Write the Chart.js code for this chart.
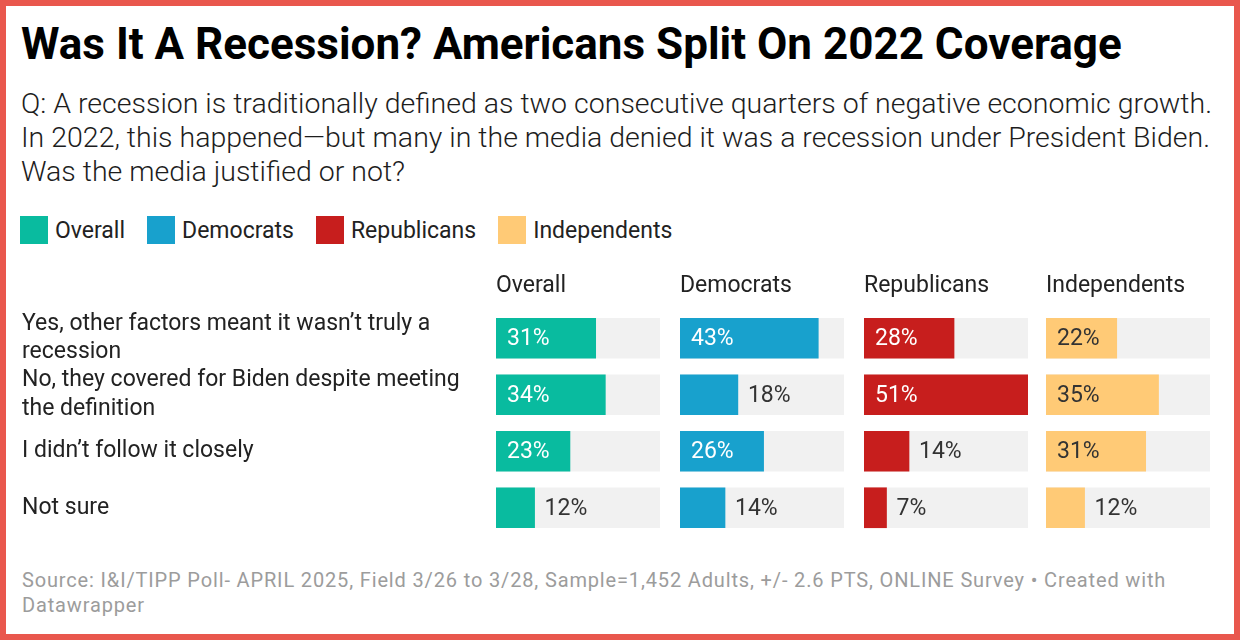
<!DOCTYPE html>
<html>
<head>
<meta charset="utf-8">
<script src="https://cdn.jsdelivr.net/npm/chart.js@4.4.1/dist/chart.umd.min.js"></script>
<style>
  body { margin: 0; background: #fff; font-family: Roboto, sans-serif; }
  .frame { position: relative; width: 1240px; height: 640px; box-sizing: border-box; border: 6px solid #e9574d; overflow: hidden; }
  .abs { position: absolute; }
  .title { left: 15px; top: 14px; font-size: 44px; line-height: 48px; font-weight: 700; color: #000; white-space: nowrap; }
  .sub { left: 15px; top: 81px; font-size: 28.5px; line-height: 34px; font-weight: 300; color: #1d1d1d; white-space: nowrap; }
  .legend { left: 14px; top: 210px; display: flex; align-items: center; font-size: 23px; color: #222; }
  .legend span.sw { width: 28px; height: 28px; display: inline-block; margin-right: 7px; }
  .legend .item { display: flex; align-items: center; margin-right: 22px; }
  .source { left: 16px; top: 562px; font-size: 20px; line-height: 25px; letter-spacing: 0.85px; color: #9c9c9c; white-space: nowrap; }
  canvas { position: absolute; }
</style>
</head>
<body>
<div class="frame">
  <div class="abs title">Was It A Recession? Americans Split On 2022 Coverage</div>
  <div class="abs sub">Q: A recession is traditionally defined as two consecutive quarters of negative economic growth.<br>In 2022, this happened—but many in the media denied it was a recession under President Biden.<br>Was the media justified or not?</div>
  <div class="abs legend" id="legend"></div>
  <div class="abs source">Source: I&amp;I/TIPP Poll- APRIL 2025, Field 3/26 to 3/28, Sample=1,452 Adults, +/- 2.6 PTS, ONLINE Survey • Created with<br>Datawrapper</div>
</div>
<script>
// answers (row labels, wrapped as in the original)
const answers = [
  ['Yes, other factors meant it wasn’t truly a', 'recession'],
  ['No, they covered for Biden despite meeting', 'the definition'],
  'I didn’t follow it closely',
  'Not sure'
];

const groups = ['Overall', 'Democrats', 'Republicans', 'Independents'];
const groupColors = ['#09bb9f', '#18a1cd', '#c71e1d', '#ffca76'];
const labelInsideColors = ['#fff', '#fff', '#fff', '#333'];

// percentages per group, same order as answers
const overall = [31, 34, 23, 12];
const democrats = [43, 18, 26, 14];
const republicans = [28, 51, 14, 7];
const independents = [22, 35, 31, 12];

const seriesValues = [overall, democrats, republicans, independents];
const scaleMax = Math.max(...seriesValues.flat());

// legend
const legendEl = document.getElementById('legend');
groups.forEach((g, i) => {
  const item = document.createElement('div');
  item.className = 'item';
  item.innerHTML = `<span class="sw" style="background:${groupColors[i]}"></span>${g}`;
  legendEl.appendChild(item);
});

const FONT = '23px Roboto';

// draws the panel header and the value labels
const panelLabels = {
  id: 'panelLabels',
  afterDatasetsDraw(chart, args, opts) {
    const ctx = chart.ctx;
    const area = chart.chartArea;
    ctx.save();
    ctx.font = FONT;
    ctx.textBaseline = 'alphabetic';
    ctx.fillStyle = '#222';
    ctx.textAlign = 'left';
    ctx.fillText(opts.header, area.left, area.top - 18);

    ctx.textBaseline = 'middle';
    const meta = chart.getDatasetMeta(1);
    meta.data.forEach((bar, i) => {
      const txt = chart.data.datasets[1].data[i] + '%';
      const w = ctx.measureText(txt).width;
      const len = bar.x - bar.base;
      if (len >= w + 22) {
        ctx.fillStyle = opts.insideColor;
        ctx.fillText(txt, bar.base + 11, bar.y + 1);
      } else {
        ctx.fillStyle = '#333';
        ctx.fillText(txt, bar.x + 10, bar.y + 1);
      }
    });
    ctx.restore();
  }
};

const panelLefts = [22, 680, 864, 1046];
const panelWidths = [638, 164, 164, 164];

const frame = document.querySelector('.frame');

groups.forEach((g, gi) => {
  const canvas = document.createElement('canvas');
  canvas.style.left = (panelLefts[gi] - 6) + 'px';
  canvas.style.top = (260 - 6) + 'px';
  canvas.width = panelWidths[gi];
  canvas.height = 290;
  canvas.style.width = panelWidths[gi] + 'px';
  canvas.style.height = '290px';
  frame.appendChild(canvas);

  const showAxis = gi === 0;

  new Chart(canvas.getContext('2d'), {
    type: 'bar',
    data: {
      labels: answers,
      datasets: [
        {
          data: answers.map(() => scaleMax),
          backgroundColor: '#f1f1f1',
          barThickness: 40,
          grouped: false,
          order: 2
        },
        {
          data: seriesValues[gi],
          backgroundColor: groupColors[gi],
          barThickness: 40,
          grouped: false,
          order: 1
        }
      ]
    },
    options: {
      indexAxis: 'y',
      responsive: false,
      animation: false,
      layout: { padding: { top: 50, bottom: 14, left: 0, right: 0 } },
      scales: {
        x: { display: false, min: 0, max: scaleMax },
        y: {
          display: showAxis,
          grid: { display: false },
          border: { display: false },
          ticks: {
            autoSkip: false,
            crossAlign: 'far',
            color: '#222',
            font: { family: 'Roboto', size: 23, lineHeight: 1.26 },
            padding: 0
          },
          afterFit(scale) {
            if (!showAxis) return;
            // fixed label column, no extra padding from label heights
            scale.width = 474;
            scale.paddingTop = 0;
            scale.paddingBottom = 0;
          }
        }
      },
      plugins: {
        legend: { display: false },
        tooltip: { enabled: false },
        panelLabels: { header: g, insideColor: labelInsideColors[gi] }
      }
    },
    plugins: [panelLabels]
  });
});
</script>
</body>
</html>
